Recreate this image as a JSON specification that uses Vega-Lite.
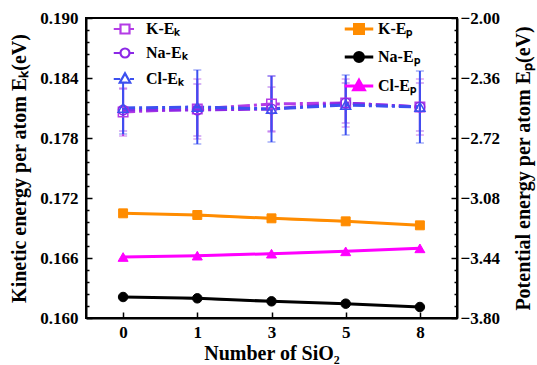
{
  "$schema": "https://vega.github.io/schema/vega-lite/v6.json",
  "width": 371,
  "height": 300,
  "autosize": "none",
  "padding": {"left": 86, "top": 18, "right": 80, "bottom": 47},
  "background": "white",
  "config": {
    "view": {"stroke": "black", "strokeWidth": 2},
    "font": "Liberation Serif, Times New Roman, serif",
    "axis": {
      "grid": false,
      "domainColor": "black",
      "domainWidth": 2,
      "tickColor": "black",
      "tickWidth": 1.5,
      "labelFont": "Liberation Serif, Times New Roman, serif",
      "labelFontSize": 17,
      "labelFontWeight": "bold",
      "labelColor": "black",
      "titleFont": "Liberation Serif, Times New Roman, serif",
      "titleFontSize": 20,
      "titleFontWeight": "bold",
      "titleColor": "black"
    },
    "legend": {
      "labelFont": "Liberation Serif, Times New Roman, serif",
      "labelFontSize": 16,
      "labelFontWeight": "bold",
      "labelColor": "black",
      "padding": 0,
      "rowPadding": 6
    }
  },
  "datasets": {
    "ek": [
      {"n": "0", "s": "K-Eₖ", "v": 0.1806, "e": 0.0024},
      {"n": "1", "s": "K-Eₖ", "v": 0.1809, "e": 0.0030},
      {"n": "3", "s": "K-Eₖ", "v": 0.1814, "e": 0.0028},
      {"n": "5", "s": "K-Eₖ", "v": 0.1815, "e": 0.0024},
      {"n": "8", "s": "K-Eₖ", "v": 0.1811, "e": 0.0028},
      {"n": "0", "s": "Na-Eₖ", "v": 0.1808, "e": 0.0021},
      {"n": "1", "s": "Na-Eₖ", "v": 0.1808, "e": 0.0026},
      {"n": "3", "s": "Na-Eₖ", "v": 0.1809, "e": 0.0022},
      {"n": "5", "s": "Na-Eₖ", "v": 0.1815, "e": 0.0020},
      {"n": "8", "s": "Na-Eₖ", "v": 0.1811, "e": 0.0024},
      {"n": "0", "s": "Cl-Eₖ", "v": 0.1810, "e": 0.0026},
      {"n": "1", "s": "Cl-Eₖ", "v": 0.1811, "e": 0.0037},
      {"n": "3", "s": "Cl-Eₖ", "v": 0.1809, "e": 0.0033},
      {"n": "5", "s": "Cl-Eₖ", "v": 0.1813, "e": 0.0030},
      {"n": "8", "s": "Cl-Eₖ", "v": 0.1811, "e": 0.0036}
    ],
    "ep": [
      {"n": "0", "s": "K-Eₚ", "v": -3.172},
      {"n": "1", "s": "K-Eₚ", "v": -3.182},
      {"n": "3", "s": "K-Eₚ", "v": -3.202},
      {"n": "5", "s": "K-Eₚ", "v": -3.220},
      {"n": "8", "s": "K-Eₚ", "v": -3.244},
      {"n": "0", "s": "Na-Eₚ", "v": -3.674},
      {"n": "1", "s": "Na-Eₚ", "v": -3.682},
      {"n": "3", "s": "Na-Eₚ", "v": -3.700},
      {"n": "5", "s": "Na-Eₚ", "v": -3.714},
      {"n": "8", "s": "Na-Eₚ", "v": -3.734},
      {"n": "0", "s": "Cl-Eₚ", "v": -3.434},
      {"n": "1", "s": "Cl-Eₚ", "v": -3.426},
      {"n": "3", "s": "Cl-Eₚ", "v": -3.414},
      {"n": "5", "s": "Cl-Eₚ", "v": -3.400},
      {"n": "8", "s": "Cl-Eₚ", "v": -3.382}
    ]
  },
  "encoding": {
    "x": {
      "field": "n",
      "type": "ordinal",
      "sort": ["0", "1", "3", "5", "8"],
      "scale": {"type": "point", "padding": 0.5},
      "axis": {
        "title": "Number of SiO₂",
        "labelAngle": 0,
        "tickSize": -6,
        "labelPadding": 12,
        "titlePadding": 3
      }
    }
  },
  "layer": [
    {
      "data": {"name": "ek"},
      "encoding": {
        "y": {
          "field": "v",
          "type": "quantitative",
          "scale": {"domain": [0.16, 0.19], "nice": false, "zero": false},
          "axis": {
            "orient": "left",
            "title": "Kinetic energy per atom Eₖ(eV)",
            "values": [0.16, 0.166, 0.172, 0.178, 0.184, 0.19],
            "format": ".3f",
            "tickSize": -6,
            "labelPadding": 14,
            "titlePadding": 10
          }
        }
      },
      "layer": [
        {
          "mark": {"type": "errorbar", "ticks": {"size": 8, "strokeWidth": 2}, "rule": {"strokeWidth": 2}},
          "encoding": {
            "yError": {"field": "e"},
            "color": {
              "field": "s",
              "type": "nominal",
              "scale": {"domain": ["K-Eₖ", "Na-Eₖ", "Cl-Eₖ"], "range": ["#B43CE6", "#8C28E6", "#3C50F0"]},
              "legend": null
            }
          }
        },
        {
          "encoding": {
            "color": {
              "field": "s",
              "type": "nominal",
              "scale": {"domain": ["K-Eₖ", "Na-Eₖ", "Cl-Eₖ"], "range": ["#B43CE6", "#8C28E6", "#3C50F0"]},
              "legend": {
                "title": null,
                "orient": "none",
                "legendX": 30,
                "legendY": 2,
                "symbolSize": 225,
                "symbolFillColor": "white",
                "symbolStrokeWidth": 2.2,
                "symbolOpacity": 1,
                "labelOffset": 12,
                "symbolType": {"expr": "datum.value == 'K-Eₖ' ? 'M-1.5,0H-0.6M0.6,0H1.2M-0.6,-0.6H0.6V0.6H-0.6Z' : datum.value == 'Na-Eₖ' ? 'M-1.5,0H-0.6M0.6,0H1.2M0.6,0A0.6,0.6,0,1,1,-0.6,0A0.6,0.6,0,1,1,0.6,0Z' : 'M-1.5,0H-0.65M0.65,0H1.2M0,-0.75L0.7,0.5H-0.7Z'"}
              }
            }
          },
          "layer": [
            {
              "mark": {"type": "line", "strokeWidth": 3, "strokeDash": [12, 4, 3, 4]}
            },
            {
              "transform": [{"filter": "datum.s == 'K-Eₖ'"}],
              "mark": {"type": "point", "shape": "square", "filled": false, "size": 90, "strokeWidth": 1.5, "opacity": 1}
            },
            {
              "transform": [{"filter": "datum.s == 'Na-Eₖ'"}],
              "mark": {"type": "point", "shape": "circle", "filled": false, "size": 90, "strokeWidth": 1.5, "opacity": 1}
            },
            {
              "transform": [{"filter": "datum.s == 'Cl-Eₖ'"}],
              "mark": {"type": "point", "shape": "triangle-up", "filled": false, "size": 100, "strokeWidth": 1.5, "opacity": 1}
            }
          ]
        }
      ],
      "resolve": {"scale": {"color": "independent"}, "legend": {"color": "independent"}}
    },
    {
      "data": {"name": "ep"},
      "encoding": {
        "y": {
          "field": "v",
          "type": "quantitative",
          "scale": {"domain": [-3.8, -2.0], "nice": false, "zero": false},
          "axis": {
            "orient": "right",
            "title": "Potential energy per atom Eₚ(eV)",
            "titleAngle": 270,
            "titleBaseline": "top",
            "values": [-3.8, -3.44, -3.08, -2.72, -2.36, -2.0],
            "format": ".2f",
            "tickSize": -6,
            "labelPadding": 9,
            "titlePadding": 14
          }
        },
        "stroke": {
          "field": "s",
          "type": "nominal",
          "scale": {"domain": ["K-Eₚ", "Na-Eₚ", "Cl-Eₚ"], "range": ["#FF8C00", "#000000", "#FF00FF"]},
          "legend": {
            "title": null,
            "orient": "none",
            "legendX": 264,
            "legendY": 2,
            "symbolSize": 225,
            "symbolStrokeWidth": 3,
            "symbolOpacity": 1,
            "labelOffset": 10,
            "symbolType": {"expr": "datum.value == 'K-Eₚ' ? 'M-1.9,0H1.9M-0.6,-0.6H0.6V0.6H-0.6Z' : datum.value == 'Na-Eₚ' ? 'M-1.9,0H1.9M0.6,0A0.6,0.6,0,1,1,-0.6,0A0.6,0.6,0,1,1,0.6,0Z' : 'M-1.9,0H1.9M0,-0.75L0.7,0.5H-0.7Z'"}
          }
        },
        "fill": {
          "field": "s",
          "type": "nominal",
          "scale": {"domain": ["K-Eₚ", "Na-Eₚ", "Cl-Eₚ"], "range": ["#FF8C00", "#000000", "#FF00FF"]},
          "legend": {
            "title": null,
            "orient": "none",
            "legendX": 264,
            "legendY": 2,
            "symbolSize": 225,
            "symbolStrokeWidth": 3,
            "symbolOpacity": 1,
            "labelOffset": 10,
            "symbolType": {"expr": "datum.value == 'K-Eₚ' ? 'M-1.9,0H1.9M-0.6,-0.6H0.6V0.6H-0.6Z' : datum.value == 'Na-Eₚ' ? 'M-1.9,0H1.9M0.6,0A0.6,0.6,0,1,1,-0.6,0A0.6,0.6,0,1,1,0.6,0Z' : 'M-1.9,0H1.9M0,-0.75L0.7,0.5H-0.7Z'"}
          }
        }
      },
      "layer": [
        {"mark": {"type": "line", "strokeWidth": 3}},
        {
          "transform": [{"filter": "datum.s == 'K-Eₚ'"}],
          "mark": {"type": "point", "shape": "square", "filled": true, "size": 80, "opacity": 1, "strokeWidth": 1}
        },
        {
          "transform": [{"filter": "datum.s == 'Na-Eₚ'"}],
          "mark": {"type": "point", "shape": "circle", "filled": true, "size": 90, "opacity": 1, "strokeWidth": 1}
        },
        {
          "transform": [{"filter": "datum.s == 'Cl-Eₚ'"}],
          "mark": {"type": "point", "shape": "triangle-up", "filled": true, "size": 100, "opacity": 1, "strokeWidth": 1}
        }
      ]
    },
    {
      "data": {"name": "ek"},
      "mark": {"type": "point", "opacity": 0},
      "encoding": {
        "y": {
          "field": "v",
          "type": "quantitative",
          "scale": {"domain": [0.16, 0.19], "nice": false, "zero": false},
          "axis": {
            "orient": "left",
            "title": null,
            "values": [0.1612, 0.1624, 0.1636, 0.1648, 0.1672, 0.1684, 0.1696, 0.1708, 0.1732, 0.1744, 0.1756, 0.1768, 0.1792, 0.1804, 0.1816, 0.1828, 0.1852, 0.1864, 0.1876, 0.1888],
            "labels": false,
            "domain": false,
            "tickSize": -3
          }
        }
      }
    },
    {
      "data": {"name": "ep"},
      "mark": {"type": "point", "opacity": 0},
      "encoding": {
        "y": {
          "field": "v",
          "type": "quantitative",
          "scale": {"domain": [-3.8, -2.0], "nice": false, "zero": false},
          "axis": {
            "orient": "right",
            "title": null,
            "values": [-3.728, -3.656, -3.584, -3.512, -3.368, -3.296, -3.224, -3.152, -3.008, -2.936, -2.864, -2.792, -2.648, -2.576, -2.504, -2.432, -2.288, -2.216, -2.144, -2.072],
            "labels": false,
            "domain": false,
            "tickSize": -3
          }
        }
      }
    }
  ],
  "resolve": {"scale": {"y": "independent", "color": "independent", "shape": "independent", "fill": "independent", "stroke": "independent"}}
}
